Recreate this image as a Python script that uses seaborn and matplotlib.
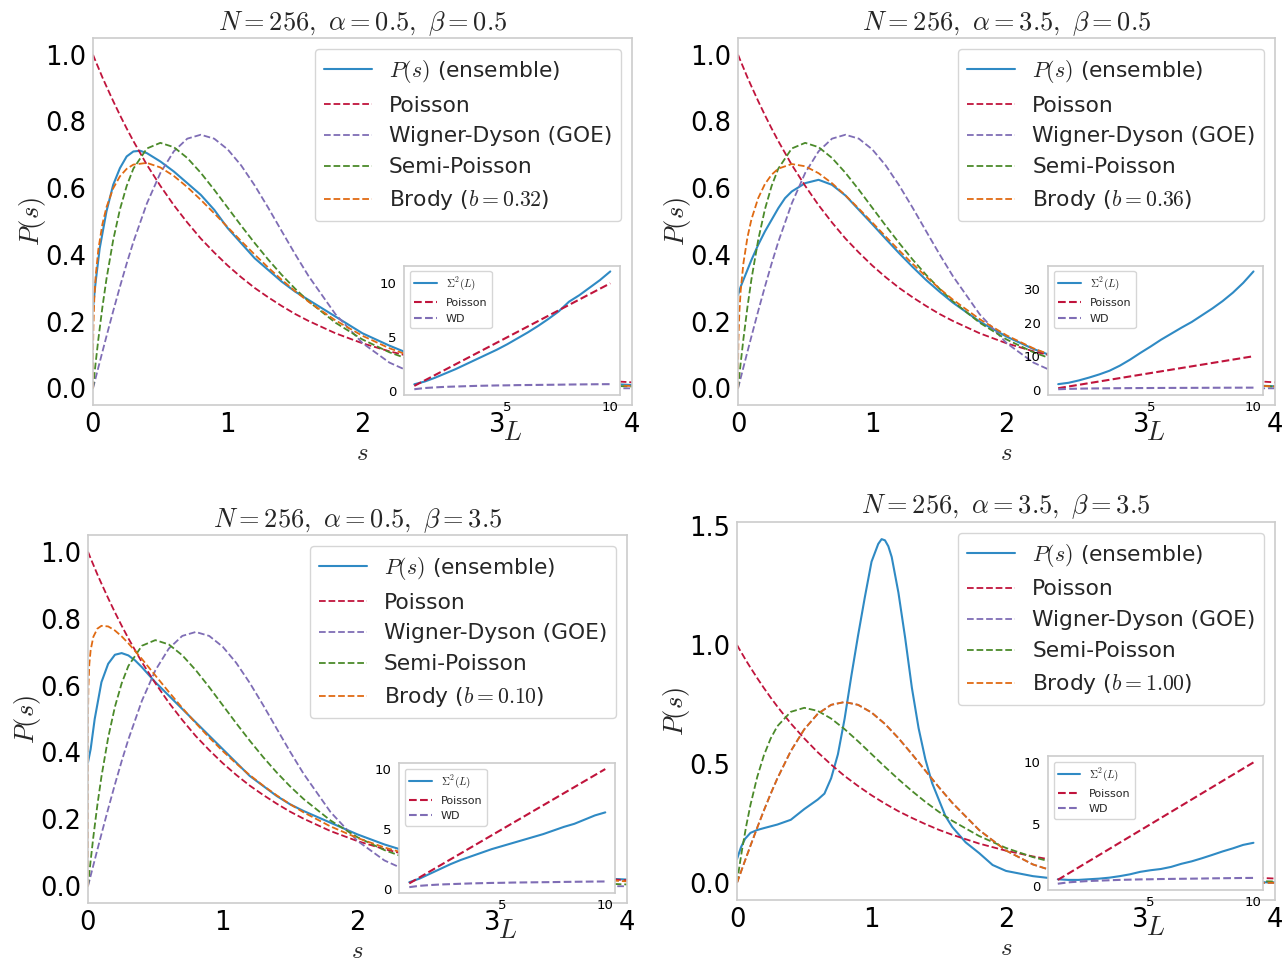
import matplotlib
matplotlib.use("Agg")
import matplotlib.pyplot as plt
import seaborn as sns

# ---------------- data ----------------
S_THEORY = [0, 0.001, 0.003, 0.01, 0.02, 0.04, 0.07, 0.1, 0.15, 0.2, 0.25, 0.3, 0.4, 0.5,
            0.6, 0.7, 0.8, 0.9, 1.0, 1.1, 1.2, 1.3, 1.4, 1.5, 1.6, 1.8, 2.0, 2.2, 2.4, 2.7,
            3.0, 3.5, 4.0]
POISSON = [1.000, 0.999, 0.997, 0.990, 0.980, 0.961, 0.932, 0.905, 0.861, 0.819, 0.779, 0.741,
           0.670, 0.607, 0.549, 0.497, 0.449, 0.407, 0.368, 0.333, 0.301, 0.273, 0.247, 0.223,
           0.202, 0.165, 0.135, 0.111, 0.091, 0.067, 0.050, 0.030, 0.018]
WIGNER_DYSON = [0, 0.0016, 0.0047, 0.0157, 0.0314, 0.0627, 0.1095, 0.1558, 0.2315, 0.3044,
                0.3739, 0.4391, 0.5541, 0.6454, 0.7104, 0.7484, 0.7601, 0.7483, 0.7161, 0.6680,
                0.6083, 0.5416, 0.4717, 0.4024, 0.3365, 0.2219, 0.1357, 0.0772, 0.0409, 0.0138,
                0.0040, 0.0004, 0.0000]
SEMI_POISSON = [0, 0.0040, 0.0119, 0.0392, 0.0769, 0.1477, 0.2434, 0.3275, 0.4445, 0.5363,
                0.6065, 0.6586, 0.7189, 0.7358, 0.7229, 0.6905, 0.6460, 0.5951, 0.5413, 0.4875,
                0.4355, 0.3862, 0.3405, 0.2987, 0.2609, 0.1967, 0.1465, 0.1081, 0.0790, 0.0488,
                0.0297, 0.0128, 0.0054]
BRODY_032 = [0, 0.1297, 0.1844, 0.2707, 0.3368, 0.4172, 0.4921, 0.5428, 0.5995, 0.6355, 0.6579,
             0.6706, 0.6757, 0.6621, 0.6366, 0.6032, 0.5651, 0.5245, 0.4829, 0.4413, 0.4010,
             0.3623, 0.3256, 0.2914, 0.2596, 0.2036, 0.1575, 0.1202, 0.0907, 0.0584, 0.0367,
             0.0163, 0.0069]
BRODY_036 = [0, 0.1004, 0.1490, 0.2295, 0.2940, 0.3747, 0.4524, 0.5068, 0.5700, 0.6121, 0.6404,
             0.6585, 0.6723, 0.6656, 0.6448, 0.6147, 0.5784, 0.5386, 0.4969, 0.4548, 0.4133,
             0.3733, 0.3352, 0.2993, 0.2659, 0.2072, 0.1588, 0.1199, 0.0893, 0.0561, 0.0344,
             0.0144, 0.0057]
BRODY_010 = [0, 0.5302, 0.5909, 0.6635, 0.7061, 0.7457, 0.7701, 0.7785, 0.7767, 0.7646, 0.7470,
             0.7262, 0.6796, 0.6302, 0.5809, 0.5331, 0.4876, 0.4445, 0.4043, 0.3671, 0.3326,
             0.3009, 0.2719, 0.2452, 0.2210, 0.1789, 0.1443, 0.1160, 0.0930, 0.0664, 0.0472,
             0.0264, 0.0146]
BRODY_100 = [0, 0.0016, 0.0047, 0.0157, 0.0314, 0.0627, 0.1095, 0.1558, 0.2315, 0.3044,
             0.3739, 0.4391, 0.5541, 0.6454, 0.7104, 0.7484, 0.7601, 0.7483, 0.7161, 0.6680,
             0.6083, 0.5416, 0.4717, 0.4024, 0.3365, 0.2219, 0.1357, 0.0772, 0.0409, 0.0138,
             0.0040, 0.0004, 0.0000]

S_ENS = [0, 0.02, 0.05, 0.1, 0.15, 0.2, 0.25, 0.3, 0.35, 0.4, 0.5, 0.6, 0.7, 0.8, 0.9, 1.0,
         1.1, 1.2, 1.3, 1.4, 1.5, 1.6, 1.8, 2.0, 2.2, 2.4, 2.7, 3.0, 3.5, 4.0]
ENS_A05_B05 = [0.24, 0.32, 0.42, 0.53, 0.61, 0.66, 0.695, 0.71, 0.712, 0.705, 0.68, 0.65, 0.615,
               0.58, 0.535, 0.48, 0.435, 0.39, 0.355, 0.32, 0.29, 0.265, 0.215, 0.165, 0.128,
               0.095, 0.06, 0.04, 0.02, 0.01]
ENS_A35_B05 = [0.28, 0.305, 0.335, 0.385, 0.43, 0.47, 0.505, 0.54, 0.57, 0.59, 0.615, 0.625,
               0.61, 0.578, 0.535, 0.492, 0.448, 0.405, 0.364, 0.325, 0.29, 0.257, 0.2, 0.155,
               0.118, 0.088, 0.055, 0.035, 0.015, 0.006]
ENS_A05_B35 = [0.37, 0.41, 0.50, 0.61, 0.665, 0.692, 0.697, 0.69, 0.675, 0.655, 0.61, 0.57, 0.53,
               0.49, 0.45, 0.41, 0.37, 0.33, 0.30, 0.27, 0.245, 0.225, 0.19, 0.155, 0.125, 0.10,
               0.07, 0.05, 0.03, 0.02]
S_ENS4 = [0, 0.03, 0.06, 0.1, 0.15, 0.2, 0.3, 0.4, 0.5, 0.6, 0.65, 0.7, 0.75, 0.8, 0.85, 0.9,
          0.95, 1.0, 1.05, 1.075, 1.1, 1.125, 1.15, 1.2, 1.25, 1.3, 1.35, 1.4, 1.45, 1.5, 1.55,
          1.6, 1.7, 1.8, 1.9, 2.0, 2.2, 2.4, 2.7, 3.0, 3.5, 4.0]
ENS_A35_B35 = [0.10, 0.15, 0.185, 0.21, 0.222, 0.23, 0.245, 0.265, 0.31, 0.35, 0.375, 0.44, 0.54,
               0.69, 0.87, 1.04, 1.2, 1.35, 1.425, 1.445, 1.44, 1.415, 1.37, 1.22, 1.03, 0.82,
               0.65, 0.52, 0.42, 0.35, 0.28, 0.235, 0.17, 0.125, 0.075, 0.05, 0.028, 0.015,
               0.008, 0.005, 0.003, 0.002]

L_VALS = [0.5, 1.0, 1.5, 2.0, 2.5, 3.0, 3.5, 4.0, 4.5, 5.0, 5.5, 6.0, 6.5, 7.0, 7.5, 8.0, 8.5,
          9.0, 9.5, 10.0]
SIGMA2_POISSON = [0.5, 1.0, 1.5, 2.0, 2.5, 3.0, 3.5, 4.0, 4.5, 5.0, 5.5, 6.0, 6.5, 7.0, 7.5, 8.0,
                  8.5, 9.0, 9.5, 10.0]
SIGMA2_WD = [0.19, 0.30, 0.36, 0.41, 0.44, 0.47, 0.50, 0.52, 0.54, 0.55, 0.57, 0.58, 0.59, 0.60,
             0.61, 0.625, 0.635, 0.645, 0.655, 0.66]
SIGMA2_A05_B05 = [0.65, 0.9, 1.25, 1.65, 2.05, 2.5, 2.95, 3.4, 3.85, 4.35, 4.9, 5.45, 6.05, 6.7,
                  7.4, 8.3, 8.9, 9.6, 10.3, 11.1]
SIGMA2_A35_B05 = [1.7, 2.1, 2.8, 3.65, 4.6, 5.7, 7.2, 9.0, 11.0, 12.9, 14.9, 16.7, 18.5, 20.2,
                  22.2, 24.2, 26.4, 28.9, 31.8, 35.2]
SIGMA2_A05_B35 = [0.6, 0.9, 1.3, 1.7, 2.1, 2.45, 2.75, 3.05, 3.35, 3.6, 3.85, 4.1, 4.35, 4.6, 4.9,
                  5.2, 5.45, 5.8, 6.15, 6.4]
SIGMA2_A35_B35 = [0.55, 0.5, 0.5, 0.55, 0.6, 0.68, 0.8, 0.95, 1.15, 1.28, 1.38, 1.55, 1.8, 2.0,
                  2.25, 2.52, 2.8, 3.05, 3.33, 3.5]

TITLES = [r"$N=256,\ \alpha=0.5,\ \beta=0.5$", r"$N=256,\ \alpha=3.5,\ \beta=0.5$",
          r"$N=256,\ \alpha=0.5,\ \beta=3.5$", r"$N=256,\ \alpha=3.5,\ \beta=3.5$"]
BRODY_LABELS = [r"Brody ($b=0.32$)", r"Brody ($b=0.36$)", r"Brody ($b=0.10$)", r"Brody ($b=1.00$)"]
BRODY_CURVES = [BRODY_032, BRODY_036, BRODY_010, BRODY_100]
ENS_S = [S_ENS, S_ENS, S_ENS, S_ENS4]
ENS_P = [ENS_A05_B05, ENS_A35_B05, ENS_A05_B35, ENS_A35_B35]
SIGMA2_ENS = [SIGMA2_A05_B05, SIGMA2_A35_B05, SIGMA2_A05_B35, SIGMA2_A35_B35]
MAIN_YTICKS = [[0.0, 0.2, 0.4, 0.6, 0.8, 1.0]] * 3 + [[0.0, 0.5, 1.0, 1.5]]
INSET_YTICKS = [[0, 5, 10], [0, 10, 20, 30], [0, 5, 10], [0, 5, 10]]

# ---------------- style ----------------
sns.set_theme(style="whitegrid")
plt.rcParams["font.family"] = ["DejaVu Sans"]
plt.rcParams["mathtext.fontset"] = "cm"
plt.rcParams["axes.grid"] = False

C_ENS = "#2f8ac4"
C_POI = "#c0143c"
C_WD = "#7f6db5"
C_SP = "#4b8a2a"
C_BR = "#e06a12"

POSITIONS = [[0.0723, 0.5781, 0.4191, 0.3823], [0.5739, 0.5781, 0.4176, 0.3823],
             [0.0684, 0.0594, 0.4191, 0.3833], [0.5731, 0.0625, 0.4184, 0.3938]]

fig = plt.figure(figsize=(12.86, 9.6), dpi=100)

for i in range(4):
    ax = fig.add_axes(POSITIONS[i])
    sns.lineplot(x=ENS_S[i], y=ENS_P[i], ax=ax, color=C_ENS, lw=1.5, label=r"$P(s)$ (ensemble)")
    sns.lineplot(x=S_THEORY, y=POISSON, ax=ax, color=C_POI, lw=1.3, ls="--", label="Poisson")
    sns.lineplot(x=S_THEORY, y=WIGNER_DYSON, ax=ax, color=C_WD, lw=1.3, ls="--",
                 label="Wigner-Dyson (GOE)")
    sns.lineplot(x=S_THEORY, y=SEMI_POISSON, ax=ax, color=C_SP, lw=1.3, ls="--", label="Semi-Poisson")
    sns.lineplot(x=S_THEORY, y=BRODY_CURVES[i], ax=ax, color=C_BR, lw=1.3, ls="--",
                 label=BRODY_LABELS[i])
    ax.set_xlim(0, 4)
    ax.set_xticks([0, 1, 2, 3, 4])
    ax.set_yticks(MAIN_YTICKS[i])
    ax.tick_params(direction="in", length=5, width=1, color="0.55", labelsize=18.5,
                   labelcolor="black", pad=5)
    for sp in ax.spines.values():
        sp.set_color("0.8")
        sp.set_linewidth(1.2)
    ax.set_xlabel(r"$s$", fontsize=18, labelpad=2)
    ax.set_ylabel(r"$P(s)$", fontsize=19, labelpad=-2)
    ax.set_title(TITLES[i], fontsize=19, pad=6)
    ax.legend(loc="upper right", fontsize=15.7, frameon=True, handlelength=2.2,
              borderpad=0.4, labelspacing=0.5, handletextpad=0.8)

    ins = ax.inset_axes([0.578, 0.027, 0.4, 0.353])
    sns.lineplot(x=L_VALS, y=SIGMA2_ENS[i], ax=ins, color=C_ENS, lw=1.5, label=r"$\Sigma^2(L)$")
    sns.lineplot(x=L_VALS, y=SIGMA2_POISSON, ax=ins, color=C_POI, lw=1.5, ls="--", label="Poisson")
    sns.lineplot(x=L_VALS, y=SIGMA2_WD, ax=ins, color=C_WD, lw=1.5, ls="--", label="WD")
    ins.set_facecolor("white")
    ins.set_xticks([5, 10])
    ins.set_yticks(INSET_YTICKS[i])
    ins.tick_params(direction="out", length=3.5, width=1, color="0.2", labelsize=9.5,
                    labelcolor="black", pad=2)
    ins.tick_params(axis="x", pad=1)
    for sp in ins.spines.values():
        sp.set_color("0.8")
        sp.set_linewidth(1.2)
    ins.set_xlabel(r"$L$", fontsize=19, labelpad=4)
    ins.set_ylabel("")
    ins.legend(loc="upper left", fontsize=8, frameon=True, handlelength=2.0,
               borderpad=0.4, labelspacing=0.5)

fig.savefig("out.png", dpi=100)
